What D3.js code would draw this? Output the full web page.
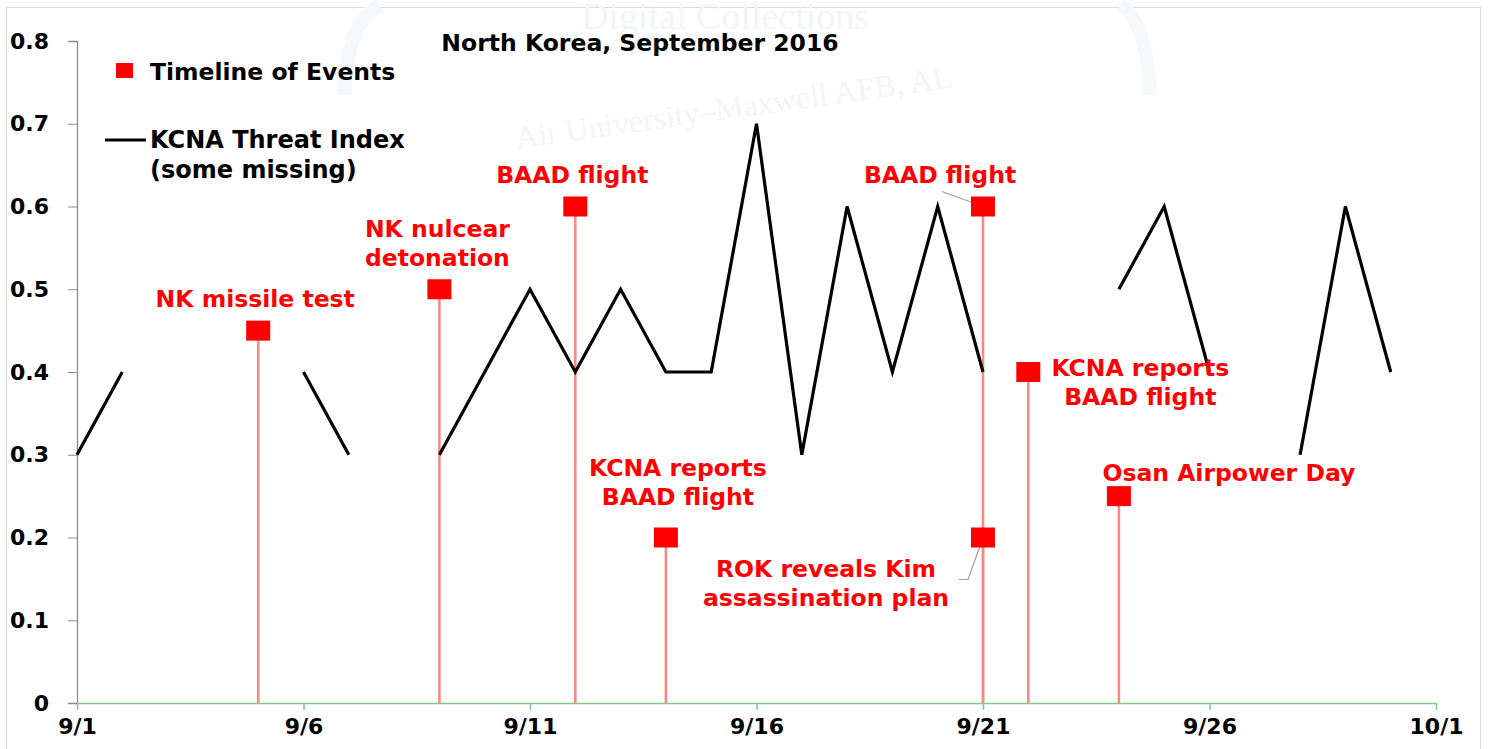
<!DOCTYPE html>
<html><head><meta charset="utf-8">
<script src="https://cdn.jsdelivr.net/npm/d3@7"></script>
<style>
body{margin:0;background:#fff;}
svg{display:block;}
text{font-family:"DejaVu Sans",sans-serif;font-weight:bold;}
</style></head>
<body>
<svg id="chart" width="1489" height="749"></svg>
<script>
// ---- data ----
const days = d3.range(1, 31);
const threatValues = [0.3,0.4,null,null,null,0.4,0.3,null,0.3,0.4,0.5,0.4,0.5,0.4,0.4,0.7,0.3,0.6,0.4,0.6,0.4,null,null,0.5,0.6,0.4,null,0.3,0.6,0.4];
const eventDays = [5, 9, 12, 14, 21, 21, 22, 24];
const eventValues = [0.45, 0.5, 0.6, 0.2, 0.6, 0.2, 0.4, 0.25];
const eventLabels = [
  ["NK missile test"],
  ["NK nulcear", "detonation"],
  ["BAAD flight"],
  ["KCNA reports", "BAAD flight"],
  ["BAAD flight"],
  ["ROK reveals Kim", "assassination plan"],
  ["KCNA reports", "BAAD flight"],
  ["Osan Airpower Day"]
];
// label layout offsets (px, relative to marker) - layout only
const labelOffsets = [[-3,-32],[-2,-61],[-3,-32],[12,-70],[-43,-32],[-157,31],[112,-4],[110,-24]];
const yTicks = [0,0.1,0.2,0.3,0.4,0.5,0.6,0.7,0.8];
const xTickDates = [new Date(2016,8,1),new Date(2016,8,6),new Date(2016,8,11),new Date(2016,8,16),new Date(2016,8,21),new Date(2016,8,26),new Date(2016,9,1)];
const title = "North Korea, September 2016";

const svg = d3.select("#chart");
const dateOf = d => new Date(2016, 8, d);
const x = d3.scaleTime().domain([new Date(2016,8,1), new Date(2016,9,1)]).range([77, 1436]);
const y = d3.scaleLinear().domain([0, 0.8]).range([703, 41]);

// faint frame / watermark
svg.append("rect").attr("x",6.5).attr("y",7.5).attr("width",1474).attr("height",760)
  .attr("fill","none").attr("stroke","#dcdcdc");
svg.append("path").attr("d","M345,95 C345,45 360,15 380,5 M1120,5 C1140,15 1150,60 1150,95")
  .attr("fill","none").attr("stroke","#f6f8fb").attr("stroke-width",14);
svg.append("text").attr("x",725).attr("y",29).attr("text-anchor","middle")
  .style("font-family","Liberation Serif").style("font-weight","normal")
  .attr("font-size",38).attr("fill","#f3f5f9").text("Digital Collections");
svg.append("text").attr("transform","translate(735,118) rotate(-8)").attr("text-anchor","middle")
  .style("font-family","Liberation Serif").style("font-weight","normal")
  .attr("font-size",32).attr("fill","#f3f5f9").text("Air University\u2013Maxwell AFB, AL");

// y axis
const yAxis = svg.append("g").attr("transform","translate(77,0)")
  .call(d3.axisLeft(y).tickValues(yTicks).tickSize(9).tickFormat(d => d === 0 ? "0" : d3.format(".1f")(d)));
yAxis.select(".domain").attr("stroke","#8c8c8c").attr("stroke-width",1.3);
yAxis.selectAll(".tick line").attr("stroke","#8c8c8c");
yAxis.selectAll(".tick text").attr("x",-28).attr("font-size",22).attr("fill","#000")
  .style("font-family","DejaVu Sans").style("font-weight","bold");

// x axis
const xAxis = svg.append("g").attr("transform","translate(0,703)")
  .call(d3.axisBottom(x).tickValues(xTickDates).tickSize(7).tickSizeOuter(0).tickFormat(d3.timeFormat("%-m/%-d")));
xAxis.select(".domain").attr("stroke","#7fc98a").attr("stroke-width",1.5);
xAxis.selectAll(".tick line").attr("stroke","#7fc98a").attr("stroke-width",1.5);
xAxis.selectAll(".tick text").attr("y",15).attr("font-size",22).attr("fill","#000")
  .style("font-family","DejaVu Sans").style("font-weight","bold");

// stems
const events = eventDays.map((d,i)=>({d, v:eventValues[i], lab:eventLabels[i], off:labelOffsets[i]}));
svg.append("g").selectAll("line").data(events).join("line")
  .attr("x1",e=>x(dateOf(e.d))).attr("x2",e=>x(dateOf(e.d)))
  .attr("y1",y(0)).attr("y2",e=>y(e.v))
  .attr("stroke","#ff8585").attr("stroke-width",2.5);

// threat line
const threat = days.map((d,i)=>({d, v:threatValues[i]}));
svg.append("path").datum(threat)
  .attr("d", d3.line().defined(p=>p.v!==null).x(p=>x(dateOf(p.d))).y(p=>y(p.v)))
  .attr("fill","none").attr("stroke","#000").attr("stroke-width",3.2).attr("stroke-linejoin","miter");

// leader lines
const e5 = events[4], e6 = events[5];
svg.append("line").attr("x1",x(dateOf(e5.d))-41).attr("y1",y(e5.v)-15)
  .attr("x2",x(dateOf(e5.d))).attr("y2",y(e5.v)).attr("stroke","#a0a0a0").attr("stroke-width",1.2);
svg.append("polyline").attr("points",[
  [x(dateOf(e6.d)), y(e6.v)],
  [x(dateOf(e6.d))-15, y(e6.v)+42],
  [x(dateOf(e6.d))-24, y(e6.v)+42]].map(p=>p.join(",")).join(" "))
  .attr("fill","none").attr("stroke","#a0a0a0").attr("stroke-width",1.2);

// markers
svg.append("g").selectAll("rect").data(events).join("rect")
  .attr("x",e=>x(dateOf(e.d))-12).attr("y",e=>y(e.v)-10)
  .attr("width",24).attr("height",20).attr("fill","#ff0000");

// labels
const lg = svg.append("g").selectAll("text").data(events).join("text")
  .attr("text-anchor","middle").attr("font-size",23.5).attr("fill","#ff0000")
  .attr("x",e=>x(dateOf(e.d))+e.off[0]).attr("y",e=>y(e.v)+e.off[1]);
lg.selectAll("tspan").data(e=>e.lab.map(t=>({t,e}))).join("tspan")
  .attr("x",o=>x(dateOf(o.e.d))+o.e.off[0])
  .attr("dy",(o,i)=>i===0?"0.36em":"29px")
  .text(o=>o.t);

// title
svg.append("text").attr("x",640).attr("y",51).attr("text-anchor","middle")
  .attr("font-size",23.5).attr("fill","#000").text(title);

// legend
svg.append("rect").attr("x",116).attr("y",63).attr("width",17).attr("height",15).attr("fill","#ff0000");
svg.append("text").attr("x",150).attr("y",80).attr("font-size",23.5).attr("fill","#000").text("Timeline of Events");
svg.append("line").attr("x1",105).attr("x2",146).attr("y1",140).attr("y2",140).attr("stroke","#000").attr("stroke-width",3);
svg.append("text").attr("x",150).attr("y",148).attr("font-size",24).attr("fill","#000").text("KCNA Threat Index");
svg.append("text").attr("x",150).attr("y",178).attr("font-size",24).attr("fill","#000").text("(some missing)");
</script>
</body></html>
